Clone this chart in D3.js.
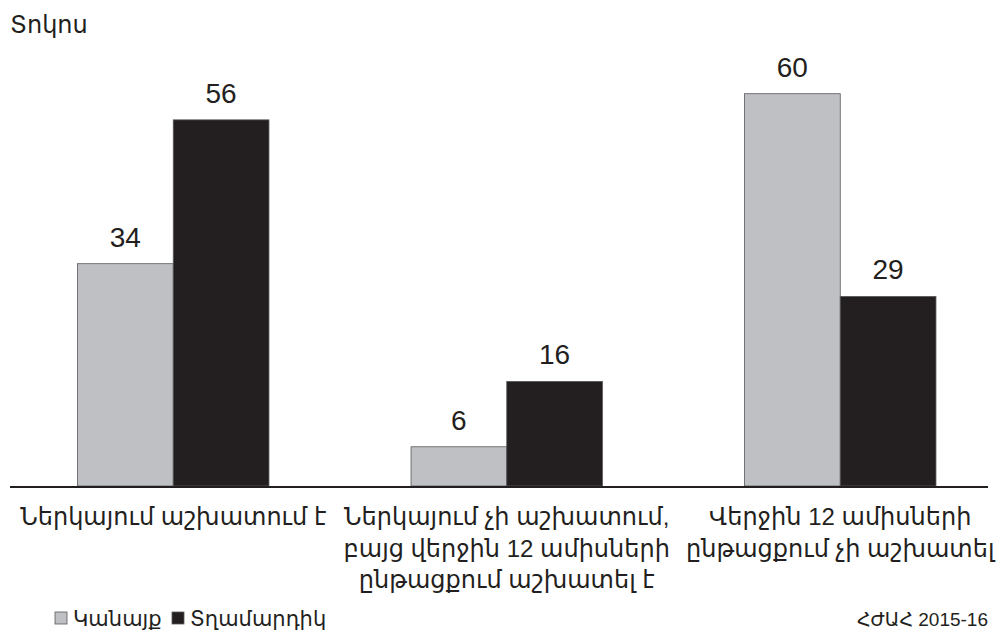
<!DOCTYPE html>
<html>
<head>
<meta charset="utf-8">
<script src="https://cdn.jsdelivr.net/npm/d3@7"></script>
<style>
  html, body { margin: 0; padding: 0; background: #fff; }
  svg { display: block; font-family: "Liberation Sans", "Noto Sans", "DejaVu Sans", sans-serif; }
</style>
</head>
<body>
<svg id="chart" width="998" height="635"></svg>
<script>
const title = "Տոկոս";
const categories = [
  ["Ներկայում աշխատում է"],
  ["Ներկայում չի աշխատում,", "բայց վերջին 12 ամիսների", "ընթացքում աշխատել է"],
  ["Վերջին 12 ամիսների", "ընթացքում չի աշխատել"]
];
const seriesNames = ["Կանայք", "Տղամարդիկ"];
const women = [34, 6, 60];
const men = [56, 16, 29];
const source = "ՀԺԱՀ 2015-16";

const colors = ["#bfc0c4", "#231f20"];
const baseY = 486;

const svg = d3.select("#chart");

const x0 = d3.scaleBand().domain(d3.range(categories.length)).range([6.5, 1007]).paddingInner(0.426).paddingOuter(0.213);
const x1 = d3.scaleBand().domain([0, 1]).range([0, x0.bandwidth()]);
const y = d3.scaleLinear().domain([0, 60]).range([baseY, 93.7]);

const data = categories.map((c, i) => ({ i, vals: [women[i], men[i]] }));

const g = svg.append("g");
const groups = g.selectAll("g.grp").data(data).join("g")
  .attr("transform", d => `translate(${x0(d.i)},0)`);

groups.selectAll("rect").data(d => d.vals.map((v, k) => ({ v, k }))).join("rect")
  .attr("x", d => x1(d.k))
  .attr("y", d => y(d.v))
  .attr("width", x1.bandwidth())
  .attr("height", d => baseY - y(d.v))
  .attr("fill", d => colors[d.k])
  .attr("stroke", "#58595b")
  .attr("stroke-width", 0.8);

groups.selectAll("text.val").data(d => d.vals.map((v, k) => ({ v, k }))).join("text")
  .attr("class", "val")
  .attr("x", d => x1(d.k) + x1.bandwidth() / 2)
  .attr("y", d => y(d.v) - 17)
  .attr("text-anchor", "middle")
  .attr("font-size", 28)
  .attr("fill", "#231f20")
  .text(d => d.v);

// baseline axis
svg.append("line")
  .attr("x1", 10).attr("x2", 988)
  .attr("y1", baseY + 1).attr("y2", baseY + 1)
  .attr("stroke", "#231f20").attr("stroke-width", 2);

// category labels
const catG = svg.append("g");
categories.forEach((lines, i) => {
  const cx = x0(i) + x0.bandwidth() / 2;
  const t = catG.append("text")
    .attr("text-anchor", "middle")
    .attr("font-size", 24)
    .attr("fill", "#231f20");
  lines.forEach((ln, j) => {
    t.append("tspan").attr("x", cx).attr("y", 525 + j * 31.5).text(ln);
  });
});

// title
svg.append("text").attr("x", 10).attr("y", 33)
  .attr("font-size", 24).attr("fill", "#231f20").text(title);

// legend
const legX = [55, 172];
seriesNames.forEach((n, k) => {
  svg.append("rect").attr("x", legX[k]).attr("y", 612).attr("width", 12).attr("height", 12)
    .attr("fill", colors[k]).attr("stroke", "#58595b").attr("stroke-width", 0.8);
  svg.append("text").attr("x", legX[k] + 18).attr("y", 626)
    .attr("font-size", 21).attr("fill", "#231f20").text(n);
});

// source
svg.append("text").attr("x", 988).attr("y", 626).attr("text-anchor", "end")
  .attr("font-size", 19).attr("fill", "#231f20").text(source);
</script>
</body>
</html>
